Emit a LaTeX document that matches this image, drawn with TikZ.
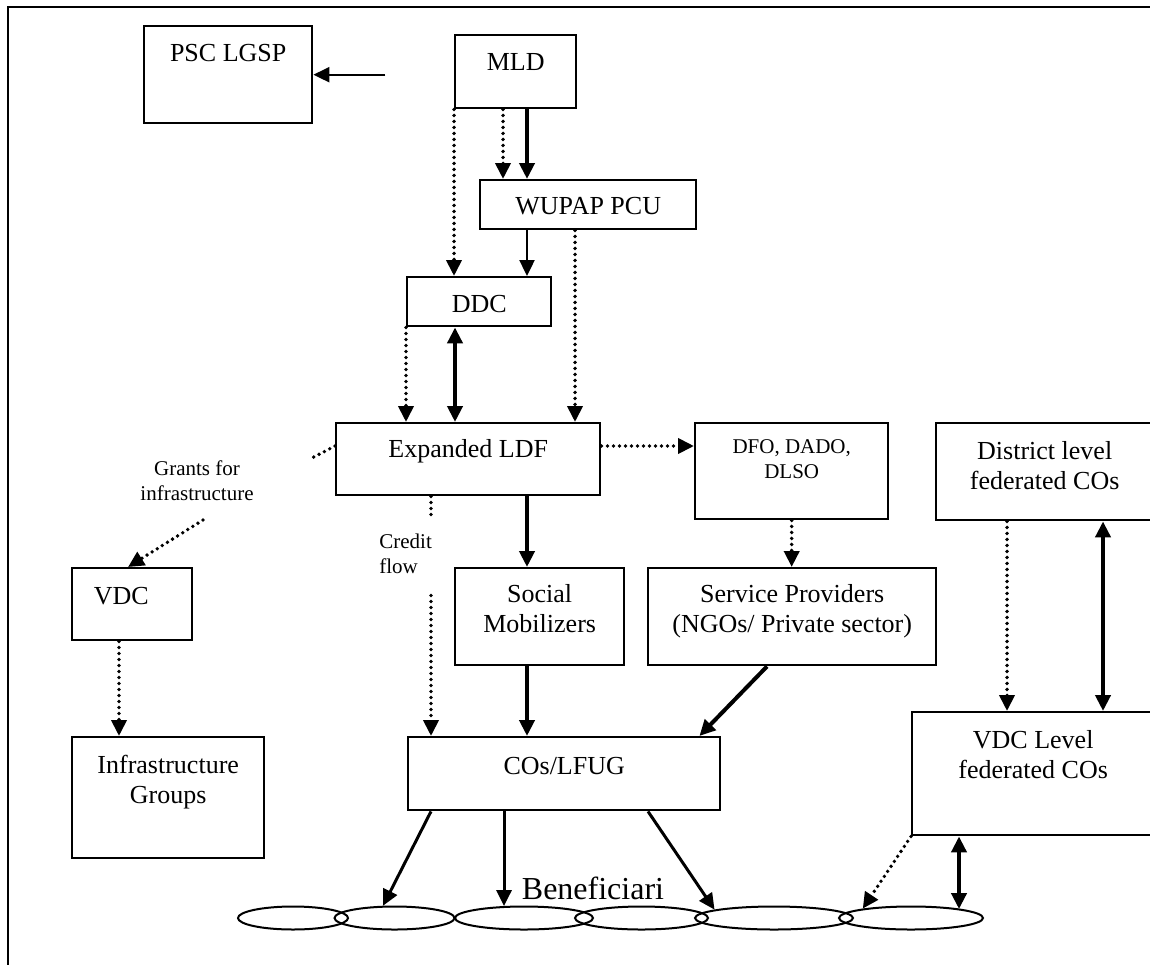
\documentclass[tikz,border=0pt]{standalone}
\usepackage{fontspec}
\setmainfont{Liberation Serif}
\usetikzlibrary{arrows.meta,shapes.geometric}

\tikzset{
  >={Triangle[length=8pt,width=7.5pt]},
  box/.style={draw, line width=1.2pt, anchor=north west, inner sep=0pt},
  txt/.style={anchor=north, align=center, inner sep=0pt, font=\fontsize{13}{15}\selectfont},
  smalltxt/.style={inner sep=0pt, font=\fontsize{10.5}{12.5}\selectfont},
  dotline/.style={line width=1.9pt, line cap=round, dash pattern=on 0pt off 3pt},
  thinarr/.style={line width=1.2pt},
  midarr/.style={line width=1.5pt},
  heavyarr/.style={line width=2pt},
  benef/.style={ellipse, draw, line width=1pt, minimum height=11.5pt, inner sep=0pt}
}

\begin{document}
\begin{tikzpicture}[x=0.5pt, y=-0.5pt]
\useasboundingbox (0,0) rectangle (1150,964);
\clip (0,0) rectangle (1150,964);
%frame
\draw[line width=1.2pt] (1170,7) -- (8,7) -- (8,990);

%boxes
\node[box, minimum width=84pt, minimum height=48.5pt] (psc) at (143,25) {};
\node[txt] (psc-t) at ([yshift=-7.5pt]psc.north) {\strut PSC LGSP};
\node[box, minimum width=60.5pt, minimum height=36.5pt] (mld) at (454,34) {};
\node[txt] (mld-t) at ([yshift=-7.5pt]mld.north) {\strut MLD};
\node[box, minimum width=108pt, minimum height=24.5pt] (wupap) at (479,179) {};
\node[txt] (wupap-t) at ([yshift=-7pt]wupap.north) {\strut WUPAP PCU};
\node[box, minimum width=72pt, minimum height=24.5pt] (ddc) at (406,276) {};
\node[txt] (ddc-t) at ([yshift=-7.5pt]ddc.north) {\strut DDC};
\node[box, minimum width=132pt, minimum height=36pt] (ldf) at (335,422) {};
\node[txt] (ldf-t) at ([yshift=-7pt]ldf.north) {\strut Expanded LDF};
\node[box, minimum width=96.5pt, minimum height=48pt] (dfo) at (694,422) {};
\node[txt, smalltxt] (dfo-t) at ([yshift=-7pt]dfo.north) {\strut DFO, DADO,\\DLSO};
\node[box, minimum width=108.5pt, minimum height=48.5pt] (district) at (935,422) {};
\node[txt] (district-t) at ([yshift=-7.8pt]district.north) {\strut District level\\federated COs};
\node[box, minimum width=84.5pt, minimum height=48.5pt] (social) at (454,567) {};
\node[txt] (social-t) at ([yshift=-7pt]social.north) {\strut Social\\Mobilizers};
\node[box, minimum width=144pt, minimum height=48.5pt] (service) at (647,567) {};
\node[txt] (service-t) at ([yshift=-7pt]service.north) {\strut Service Providers\\(NGOs/ Private sector)};
\node[box, minimum width=60pt, minimum height=36pt] (vdc) at (71,567) {};
\node[txt] (vdc-t) at ([yshift=-7.8pt]vdc.north) {\strut VDC\hspace*{11pt}};
\node[box, minimum width=96pt, minimum height=60.5pt] (infra) at (71,736) {};
\node[txt] (infra-t) at ([yshift=-7.8pt]infra.north) {\strut Infrastructure\\Groups};
\node[box, minimum width=156pt, minimum height=36.5pt] (cos) at (407,736) {};
\node[txt] (cos-t) at ([yshift=-8.3pt]cos.north) {\strut COs/LFUG};
\node[box, minimum width=121pt, minimum height=61.5pt] (vdclevel) at (911,711) {};
\node[txt] (vdclevel-t) at ([yshift=-7.8pt]vdclevel.north) {\strut VDC Level\\federated COs};

%free labels
\node[smalltxt, anchor=north, align=center] (grants) at (197,458) {\strut Grants for\\infrastructure};
\node[smalltxt, anchor=north west, align=left] (credit) at (379,531) {\strut Credit\\flow};
\node[inner sep=0pt, font=\fontsize{16}{19}\selectfont] (beneficiari) at (593,888) {Beneficiari};

%beneficiary ellipses
\node[benef, minimum width=55pt] (b1) at (293,918) {};
\node[benef, minimum width=60pt] (b2) at (394.5,918) {};
\node[benef, minimum width=69pt] (b3) at (524,918) {};
\node[benef, minimum width=66.5pt] (b4) at (641.5,918) {};
\node[benef, minimum width=79pt] (b5) at (774,918) {};
\node[benef, minimum width=72pt] (b6) at (911,918) {};

%top part
\coordinate (psc-in) at ([xshift=36pt]psc.east);
\draw[thinarr,->] (psc-in) -- (psc.east);
\coordinate (m1) at ([xshift=24.5pt]mld.south west);
\coordinate (m2) at ([xshift=36.5pt]mld.south west);
\draw[dotline,->] (mld.south west) -- (mld.south west |- ddc.north);
\draw[dotline,->] (m1) -- (m1 |- wupap.north);
\draw[heavyarr,->] (m2) -- (m2 |- wupap.north);
\coordinate (w1) at ([xshift=24pt]wupap.south west);
\coordinate (w2) at ([xshift=48pt]wupap.south west);
\draw[thinarr,->] (w1) -- (w1 |- ddc.north);
\draw[dotline,->] (w2) -- (w2 |- ldf.north);
\coordinate (dd1) at ([xshift=24.5pt]ddc.south west);
\draw[dotline,->] (ddc.south west) -- (ddc.south west |- ldf.north);
\draw[heavyarr,<->] (dd1) -- (dd1 |- ldf.north);

%middle part
\coordinate (l1) at ([yshift=-12pt]ldf.north east);
\draw[dotline,->] (l1) -- (l1 -| dfo.west);
\coordinate (l2) at ([yshift=-12pt]ldf.north west);
\draw[dotline] (l2) -- ++(-11.5pt,-6pt);
\coordinate (g1) at (203,520);
\coordinate (v1) at ([xshift=28.5pt]vdc.north west);
\draw[dotline,->] (g1) -- (v1);
\coordinate (c1) at ([xshift=48pt]ldf.south west);
\draw[dotline] (c1) -- ++(0,-12pt);
\coordinate (c2) at ([yshift=-49.5pt]c1);
\draw[dotline,->] (c2) -- (c2 |- cos.north);
\coordinate (l3) at ([xshift=96pt]ldf.south west);
\draw[heavyarr,->] (l3) -- (l3 |- social.north);
\draw[dotline,->] (dfo.south) -- (dfo.south |- service.north);
\draw[heavyarr,->] ([xshift=60pt]service.south west) -- ([xshift=-11pt]cos.north east);
\coordinate (s1) at ([xshift=36.5pt]social.south west);
\draw[heavyarr,->] (s1) -- (s1 |- cos.north);
\coordinate (d1) at ([xshift=36pt]district.south west);
\coordinate (d2) at ([xshift=84pt]district.south west);
\draw[dotline,->] (d1) -- (d1 |- vdclevel.north);
\draw[heavyarr,<->] (d2) -- (d2 |- vdclevel.north);
\coordinate (v2) at ([xshift=24pt]vdc.south west);
\draw[dotline,->] (v2) -- (v2 |- infra.north);

%bottom part
\coordinate (o1) at ([xshift=12pt]cos.south west);
\coordinate (o2) at ([xshift=48.5pt]cos.south west);
\coordinate (o3) at ([xshift=120.5pt]cos.south west);
\draw[midarr,->] (o1) -- (b2.133);
\draw[midarr,->] (o2) -- (o2 |- b3.151);
\draw[midarr,->] (o3) -- (b5.172);
\coordinate (e1) at ([xshift=24pt]vdclevel.south west);
\draw[dotline,->] (vdclevel.south west) -- (b6.169);
\draw[heavyarr,<->] (e1) -- (e1 |- b6.10);
\end{tikzpicture}
\end{document}
